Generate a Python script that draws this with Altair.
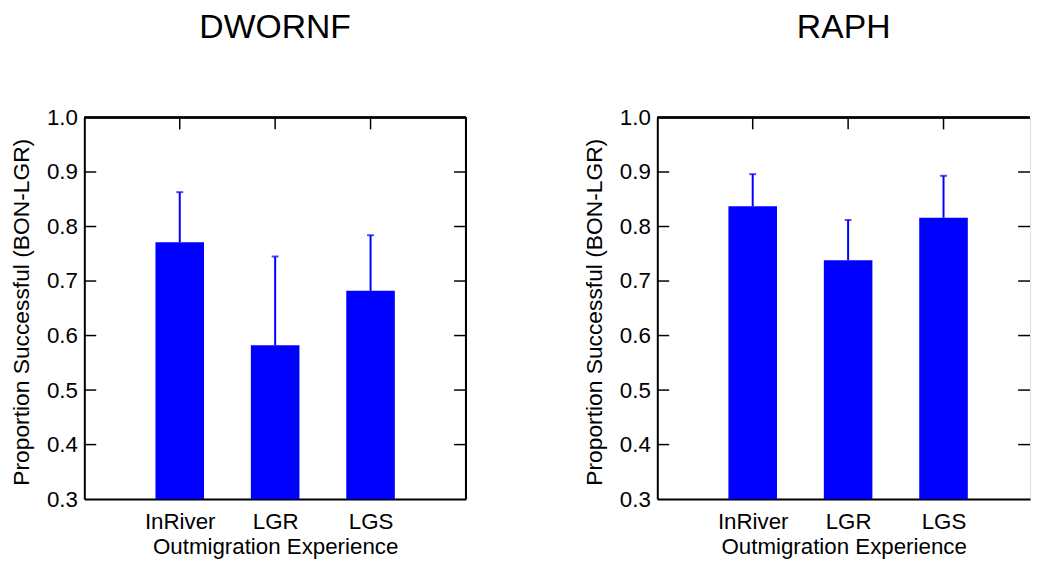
import altair as alt
import pandas as pd

categories = ["InRiver", "LGR", "LGS"]
dwornf_mean = [0.771, 0.582, 0.682]
dwornf_upper = [0.863, 0.745, 0.784]
raph_mean = [0.837, 0.738, 0.816]
raph_upper = [0.896, 0.812, 0.893]
y_ticks = [0.3, 0.4, 0.5, 0.6, 0.7, 0.8, 0.9, 1.0]
inner_ticks = [0.4, 0.5, 0.6, 0.7, 0.8, 0.9]

H = 385
BLUE = "#0000FF"
FONT = "Liberation Sans"
FS = 22.5


def panel(title, means, uppers, W, pad, align, right_edge):
    df = pd.DataFrame({"cat": categories, "mean": means, "upper": uppers})
    tdf = pd.DataFrame({"v": inner_ticks})
    cdf = pd.DataFrame({"cat": categories})
    xscale = alt.Scale(type="point", padding=pad, align=align)
    yscale = alt.Scale(domain=[0.3, 1.0], zero=False, nice=False)
    ytitle = "Proportion Successful (BON-LGR)"
    xenc = alt.X(
        "cat:N", sort=categories, scale=xscale, title="Outmigration Experience",
        axis=alt.Axis(labelAngle=0, ticks=False, tickSize=0, labelPadding=12,
                      titlePadding=2, domainColor="black", domainWidth=2,
                      labelFontSize=FS, titleFontSize=FS, labelColor="black",
                      titleColor="black", titleFontWeight="normal", grid=False,
                      labelFont=FONT, titleFont=FONT),
    )
    yenc = alt.Y(
        "mean:Q", scale=yscale, title=ytitle,
        axis=alt.Axis(values=y_ticks, format=".1f", ticks=False, tickSize=0,
                      labelPadding=7, titlePadding=13, domainColor="black",
                      domainWidth=2, labelFontSize=FS, titleFontSize=23,
                      labelColor="black", titleColor="black", titleY=196,
                      titleFontWeight="normal", grid=False, labelFont=FONT,
                      titleFont=FONT),
    )
    base = alt.Chart(df)
    bars = base.mark_bar(size=49, color=BLUE).encode(x=xenc, y=yenc, y2=alt.datum(0.3))
    err = base.mark_rule(color=BLUE, strokeWidth=2).encode(
        x=alt.X("cat:N", sort=categories), y=alt.Y("mean:Q", title=ytitle), y2="upper:Q")
    caps = base.mark_tick(color=BLUE, size=7, thickness=2).encode(
        x=alt.X("cat:N", sort=categories), y=alt.Y("upper:Q", title=ytitle))
    lticks = alt.Chart(tdf).mark_rule(color="black", strokeWidth=1.5).encode(
        y=alt.Y("v:Q", title=ytitle), x=alt.value(0), x2=alt.value(12))
    rticks = alt.Chart(tdf).mark_rule(color="black", strokeWidth=1.5).encode(
        y=alt.Y("v:Q", title=ytitle), x=alt.value(W - 12), x2=alt.value(W))
    tticks = alt.Chart(cdf).mark_rule(color="black", strokeWidth=1.5).encode(
        x=alt.X("cat:N", sort=categories), y=alt.value(0), y2=alt.value(12))
    top = alt.Chart(cdf).mark_rule(color="black", strokeWidth=2).encode(
        y=alt.value(0), x=alt.value(0), x2=alt.value(W))
    layers = [bars, err, caps, lticks, rticks, tticks, top]
    if right_edge:
        layers.append(alt.Chart(cdf).mark_rule(color="black", strokeWidth=2).encode(
            x=alt.value(W), y=alt.value(0), y2=alt.value(H)))
    return alt.layer(*layers).properties(
        width=W, height=H,
        title=alt.TitleParams(title, fontSize=34, font=FONT, fontWeight="normal",
                              color="black", anchor="middle", baseline="alphabetic",
                              offset=35),
    )


W1 = 385
step = W1 / 4
W2 = 376
pad2 = (W2 / step - 2) / 2
align2 = step / (W2 - 2 * step)

left = panel("DWORNF", dwornf_mean, dwornf_upper, W1, 1, 0.5, True)
right = panel("RAPH", raph_mean, raph_upper, W2, pad2, align2, False)

chart = alt.hconcat(left, right, spacing=116).properties(
    padding={"left": 2, "top": 0, "right": 0, "bottom": 0}
).configure_view(stroke=None).configure(font=FONT)

chart.save("out.html", embed_options={"renderer": "svg", "actions": False})
